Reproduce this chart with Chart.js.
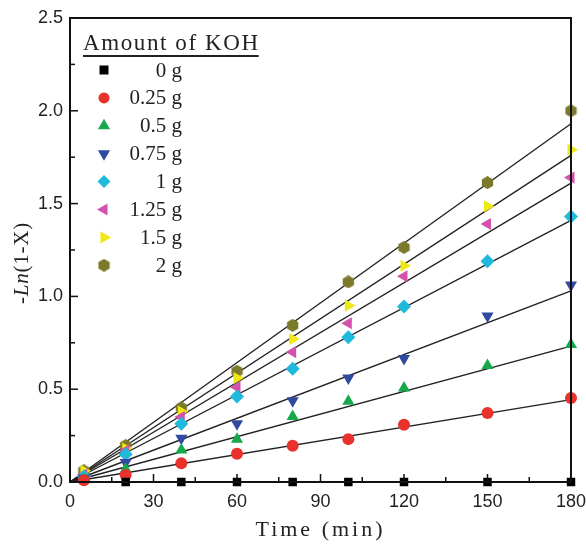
<!DOCTYPE html>
<html><head><meta charset="utf-8">
<script src="https://cdn.jsdelivr.net/npm/chart.js@4/dist/chart.umd.min.js"></script>
<style>html,body{margin:0;padding:0;background:#fff}#wrap{width:586px;height:546px}</style>
</head><body><div id="wrap"><canvas id="c" width="586" height="546"></canvas></div>
<script>
// ---- data ----
const timesMin = [5, 20, 40, 60, 80, 100, 120, 150, 180];
const timesNoKOH = [20, 40, 60, 80, 100, 120, 150, 180];
const koh0g    = [0, 0, 0, 0, 0, 0, 0, 0];
const koh025g  = [0.01, 0.038, 0.101, 0.152, 0.195, 0.231, 0.308, 0.372, 0.453];
const koh05g   = [0.015, 0.069, 0.173, 0.231, 0.353, 0.435, 0.507, 0.628, 0.741];
const koh075g  = [0.02, 0.105, 0.236, 0.314, 0.438, 0.561, 0.666, 0.895, 1.062];
const koh1g    = [0.03, 0.15, 0.314, 0.46, 0.61, 0.78, 0.945, 1.19, 1.43];
const koh125g  = [0.04, 0.17, 0.35, 0.51, 0.70, 0.855, 1.108, 1.39, 1.64];
const koh15g   = [0.06, 0.18, 0.38, 0.56, 0.77, 0.95, 1.165, 1.486, 1.79];
const koh2g    = [0.06, 0.196, 0.40, 0.597, 0.844, 1.078, 1.264, 1.613, 2.00];
// fitted straight lines through the origin: value at 180 min
const fitEnd025 = 0.444, fitEnd05 = 0.732, fitEnd075 = 1.03, fitEnd1 = 1.41,
      fitEnd125 = 1.61, fitEnd15 = 1.76, fitEnd2 = 1.93;
const seriesLabels = ['0 g', '0.25 g', '0.5 g', '0.75 g', '1 g', '1.25 g', '1.5 g', '2 g'];
const legendTitle = 'Amount of KOH';
const xTickValues = [0, 30, 60, 90, 120, 150, 180];
const yTickValues = [0.0, 0.5, 1.0, 1.5, 2.0, 2.5];
const xAxisTitle = 'Time (min)';

// ---- styles ----
const colors = ['#000000', '#e8322b', '#17a84b', '#2f4a9f', '#1fb9dc', '#d452ad', '#efe814', '#7b7a2c'];
function hexCanvas(color, size) {
  const c = document.createElement('canvas');
  c.width = size; c.height = size;
  const g = c.getContext('2d');
  const r = size / 2, cx = r, cy = r;
  g.beginPath();
  for (let i = 0; i < 6; i++) {
    const a = Math.PI / 3 * i + Math.PI / 6;
    const px = cx + r * Math.cos(a), py = cy + r * Math.sin(a);
    i ? g.lineTo(px, py) : g.moveTo(px, py);
  }
  g.closePath(); g.fillStyle = color; g.fill();
  return c;
}
const hexImg = hexCanvas(colors[7], 13);
const styles = [
  {pointStyle: 'rect', rotation: 0, radius: 6},
  {pointStyle: 'circle', rotation: 0, radius: 6},
  {pointStyle: 'triangle', rotation: 0, radius: 7},
  {pointStyle: 'triangle', rotation: 180, radius: 7},
  {pointStyle: 'rectRot', rotation: 0, radius: 7},
  {pointStyle: 'triangle', rotation: -90, radius: 7},
  {pointStyle: 'triangle', rotation: 90, radius: 7},
  {pointStyle: hexImg, rotation: 0, radius: 6}
];

const seriesY = [koh0g, koh025g, koh05g, koh075g, koh1g, koh125g, koh15g, koh2g];
const fitEnds = [fitEnd025, fitEnd05, fitEnd075, fitEnd1, fitEnd125, fitEnd15, fitEnd2];

const datasets = [];
fitEnds.forEach(v => datasets.push({
  type: 'line', data: [{x: 0, y: 0}, {x: 180, y: v}],
  borderColor: '#222', borderWidth: 1.4, pointRadius: 0, fill: false, order: 2, clip: false
}));
seriesY.forEach((arr, i) => {
  const xs = i === 0 ? timesNoKOH : timesMin;
  datasets.push({
    type: 'scatter', label: seriesLabels[i],
    data: arr.map((y, k) => ({x: xs[k], y})),
    backgroundColor: colors[i], borderColor: colors[i], borderWidth: 0,
    pointStyle: styles[i].pointStyle, rotation: styles[i].rotation,
    pointRadius: styles[i].radius, pointHoverRadius: styles[i].radius,
    clip: false, order: 1
  });
});

const serif = '"Liberation Serif", "Times New Roman", serif';
const sans = '"Liberation Sans", Arial, sans-serif';

const decor = {
  id: 'decor',
  afterDraw(chart) {
    const {ctx, chartArea: a, scales: {x, y}} = chart;
    ctx.save();
    // inward ticks
    ctx.strokeStyle = '#111'; ctx.lineWidth = 1.5;
    for (let v = 0; v <= 180; v += 15) {
      const px = x.getPixelForValue(v);
      const len = v % 30 === 0 ? 8 : 5;
      ctx.beginPath(); ctx.moveTo(px, a.bottom); ctx.lineTo(px, a.bottom - len); ctx.stroke();
    }
    for (let k = 0; k <= 10; k++) {
      const v = k * 0.25;
      const py = y.getPixelForValue(v);
      const len = k % 2 === 0 ? 8 : 5;
      ctx.beginPath(); ctx.moveTo(a.left, py); ctx.lineTo(a.left + len, py); ctx.stroke();
    }
    // frame
    ctx.lineWidth = 2; ctx.strokeStyle = '#111';
    ctx.strokeRect(a.left, a.top, a.right - a.left, a.bottom - a.top);

    // axis titles
    ctx.fillStyle = '#222';
    ctx.font = '22px ' + serif;
    ctx.letterSpacing = '3px';
    ctx.textAlign = 'center'; ctx.textBaseline = 'alphabetic';
    ctx.fillText(xAxisTitle, (a.left + a.right) / 2, 536);
    ctx.letterSpacing = '0.8px';
    // y title: "-Ln(1-X)" with italic Ln
    ctx.save();
    ctx.translate(28, 263);
    ctx.rotate(-Math.PI / 2);
    const parts = [['-', '21px ' + serif], ['Ln', 'italic 21px ' + serif], ['(1-X)', '21px ' + serif]];
    let total = 0;
    parts.forEach(p => { ctx.font = p[1]; total += ctx.measureText(p[0]).width; });
    let cx = -total / 2;
    ctx.textAlign = 'left';
    parts.forEach(p => { ctx.font = p[1]; ctx.fillText(p[0], cx, 0); cx += ctx.measureText(p[0]).width; });
    ctx.restore();

    // legend
    ctx.letterSpacing = '1.6px';
    ctx.font = '23px ' + serif;
    ctx.textAlign = 'left';
    ctx.fillStyle = '#222';
    ctx.fillText(legendTitle, 83, 50);
    const tw = ctx.measureText(legendTitle).width;
    ctx.fillRect(83, 55, tw - 1, 2);
    ctx.letterSpacing = '0px';
    ctx.font = '21px ' + serif;
    ctx.textAlign = 'right';
    ctx.textBaseline = 'middle';
    for (let i = 0; i < 8; i++) {
      const yy = 70 + i * 27.9;
      drawMarker(ctx, i, 104, yy);
      ctx.fillStyle = '#222';
      ctx.fillText(seriesLabels[i], 182, yy + 1);
    }
    ctx.restore();
  }
};
function drawMarker(ctx, i, cx, cy) {
  ctx.save();
  ctx.fillStyle = colors[i];
  ctx.translate(cx, cy);
  const s = styles[i];
  if (i === 7) { ctx.drawImage(hexImg, -6.5, -6.5); ctx.restore(); return; }
  ctx.rotate(s.rotation * Math.PI / 180);
  ctx.beginPath();
  const r = s.radius;
  if (s.pointStyle === 'rect') { ctx.rect(-4.5, -4.5, 9, 9); }
  else if (s.pointStyle === 'circle') { ctx.arc(0, 0, 5.5, 0, Math.PI * 2); }
  else if (s.pointStyle === 'rectRot') { ctx.moveTo(0, -6.5); ctx.lineTo(6.5, 0); ctx.lineTo(0, 6.5); ctx.lineTo(-6.5, 0); ctx.closePath(); }
  else { // triangle pointing up (before rotation)
    ctx.moveTo(0, -r); ctx.lineTo(r * 0.87, r * 0.5); ctx.lineTo(-r * 0.87, r * 0.5); ctx.closePath();
  }
  ctx.fill();
  ctx.restore();
}

new Chart(document.getElementById('c'), {
  data: {datasets},
  options: {
    responsive: false, animation: false, devicePixelRatio: 1,
    layout: {padding: {top: 18, right: 15, left: 0, bottom: 0}},
    plugins: {legend: {display: false}, tooltip: {enabled: false}},
    scales: {
      x: {
        type: 'linear', min: 0, max: 180,
        afterFit(s) { s.height = 64; s.paddingRight = 0; s.paddingLeft = 0; },
        afterBuildTicks(s) { s.ticks = xTickValues.map(v => ({value: v})); },
        grid: {display: false, drawTicks: false}, border: {display: false},
        ticks: {padding: 9, color: '#222', font: {family: sans, size: 18}, maxRotation: 0, autoSkip: false,
                callback: v => String(v)}
      },
      y: {
        type: 'linear', min: 0, max: 2.5,
        afterFit(s) { s.width = 70; s.paddingTop = 0; s.paddingBottom = 0; },
        afterBuildTicks(s) { s.ticks = yTickValues.map(v => ({value: v})); },
        grid: {display: false, drawTicks: false}, border: {display: false},
        ticks: {padding: 7, color: '#222', font: {family: sans, size: 18}, autoSkip: false,
                callback: v => Number(v).toFixed(1)}
      }
    }
  },
  plugins: [decor]
});
</script></body></html>
